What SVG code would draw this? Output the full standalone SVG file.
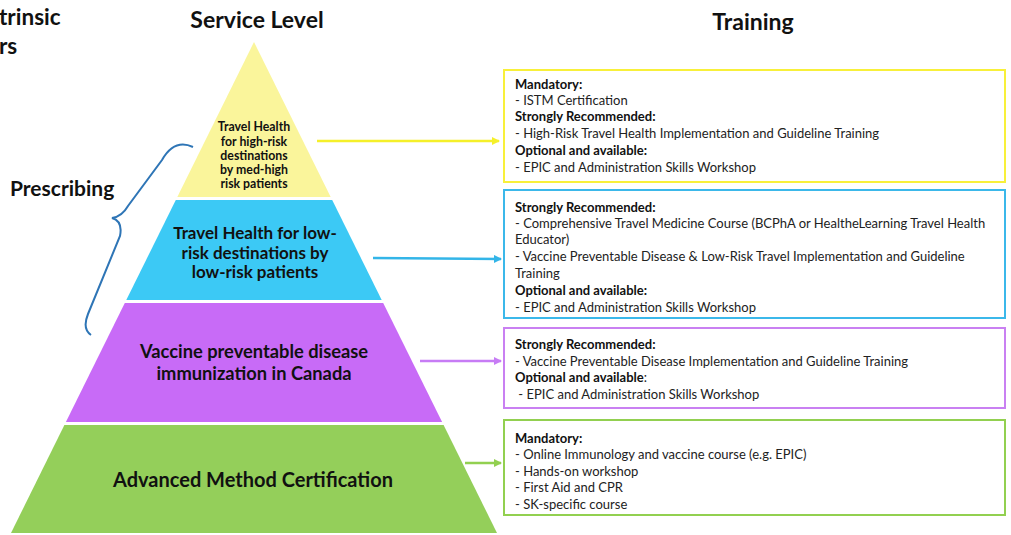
<svg xmlns="http://www.w3.org/2000/svg" width="1011" height="535" viewBox="0 0 1011 535">
<style>
.h{font-family:Lato,"Liberation Sans",sans-serif;font-weight:bold;fill:#111}
.t{font-family:Lato,"Liberation Sans",sans-serif;font-size:13px;fill:#222}
.b{font-weight:bold;fill:#111}
.ptxt{font-family:Lato,"Liberation Sans",sans-serif;font-weight:bold;fill:#111;text-anchor:middle}
.box{fill:#fff;stroke-width:2}
.conn{fill:none;stroke-width:2.5}
</style>
<defs>
<marker id="ay" markerWidth="8" markerHeight="8" refX="7" refY="4" orient="auto" markerUnits="userSpaceOnUse"><path d="M0,0 L8,4 L0,8 z" fill="#f5f02a"/></marker>
<marker id="ab" markerWidth="8" markerHeight="8" refX="7" refY="4" orient="auto" markerUnits="userSpaceOnUse"><path d="M0,0 L8,4 L0,8 z" fill="#33b5e8"/></marker>
<marker id="ap" markerWidth="8" markerHeight="8" refX="7" refY="4" orient="auto" markerUnits="userSpaceOnUse"><path d="M0,0 L8,4 L0,8 z" fill="#c77cf5"/></marker>
<marker id="ag" markerWidth="8" markerHeight="8" refX="7" refY="4" orient="auto" markerUnits="userSpaceOnUse"><path d="M0,0 L8,4 L0,8 z" fill="#92d050"/></marker>
</defs>
<rect width="1011" height="535" fill="#fff"/>

<g id="headings">
<text class="h" x="-1" y="25" font-size="22.5">trinsic</text>
<text class="h" x="-1" y="54" font-size="22.5">rs</text>
<text class="h" x="257" y="28" font-size="23" text-anchor="middle">Service Level</text>
<text class="h" x="753" y="30" font-size="23" text-anchor="middle">Training</text>
<text class="h" x="10" y="196" font-size="21">Prescribing</text>
</g>

<g id="bracket">
<path d="M193,147 C180,141 170,146 162,160 L128,206 C124,213 119,217 112,218 C119,220 122,226 120,236 L88,314 C84,324 85,331 91,335" fill="none" stroke="#2e75b6" stroke-width="2"/>
</g>

<g id="level-yellow">
<polygon points="254,42 330.7,197 177.3,197" fill="#faf59b"/>
<text class="ptxt" font-size="12.3"><tspan x="254" y="131">Travel Health</tspan><tspan x="254" y="146">for high-risk</tspan><tspan x="254" y="160">destinations</tspan><tspan x="254" y="174">by med-high</tspan><tspan x="254" y="188">risk patients</tspan></text>
</g>
<g id="level-blue">
<polygon points="175.8,200 332.2,200 381.7,300 126.3,300" fill="#3cc9f5"/>
<text class="ptxt" font-size="17"><tspan x="255" y="239">Travel Health for low-</tspan><tspan x="255" y="259">risk destinations by</tspan><tspan x="255" y="278">low-risk patients</tspan></text>
</g>
<g id="level-purple">
<polygon points="124.8,303 383.2,303 442.1,422 65.9,422" fill="#c86bf7"/>
<text class="ptxt" font-size="18.3"><tspan x="254" y="358">Vaccine preventable disease</tspan><tspan x="254" y="380">immunization in Canada</tspan></text>
</g>
<g id="level-green">
<polygon points="64.4,425 443.6,425 497,533 11,533" fill="#94cf5a"/>
<text class="ptxt" font-size="20" x="253" y="487">Advanced Method Certification</text>
</g>

<g id="connectors">
<line class="conn" x1="317" y1="141" x2="499" y2="141" stroke="#f5f02a" marker-end="url(#ay)"/>
<line class="conn" x1="373" y1="258" x2="501" y2="259" stroke="#33b5e8" marker-end="url(#ab)"/>
<line class="conn" x1="420" y1="361" x2="501" y2="361" stroke="#c77cf5" marker-end="url(#ap)"/>
<line class="conn" x1="465" y1="463" x2="501" y2="463" stroke="#92d050" marker-end="url(#ag)"/>
</g>

<g id="box-yellow">
<rect class="box" x="504" y="70" width="501" height="112" stroke="#f8f03a"/>
<text class="t"><tspan class="b" x="515" y="89">Mandatory:</tspan><tspan x="515" y="105">- ISTM Certification</tspan><tspan class="b" x="515" y="121">Strongly Recommended:</tspan><tspan x="515" y="138">- High-Risk Travel Health Implementation and Guideline Training</tspan><tspan class="b" x="515" y="155">Optional and available:</tspan><tspan x="515" y="172">- EPIC and Administration Skills Workshop</tspan></text>
</g>
<g id="box-blue">
<rect class="box" x="504" y="190" width="501" height="128" stroke="#3bb8ea"/>
<text class="t"><tspan class="b" x="515" y="212">Strongly Recommended:</tspan><tspan x="515" y="228">- Comprehensive Travel Medicine Course (BCPhA or HealtheLearning Travel Health</tspan><tspan x="515" y="244">Educator)</tspan><tspan x="515" y="261">- Vaccine Preventable Disease &amp; Low-Risk Travel Implementation and Guideline</tspan><tspan x="515" y="278">Training</tspan><tspan class="b" x="515" y="295">Optional and available:</tspan><tspan x="515" y="312">- EPIC and Administration Skills Workshop</tspan></text>
</g>
<g id="box-purple">
<rect class="box" x="504" y="328" width="501" height="80" stroke="#c980f2"/>
<text class="t"><tspan class="b" x="515" y="349">Strongly Recommended:</tspan><tspan x="515" y="366">- Vaccine Preventable Disease Implementation and Guideline Training</tspan><tspan class="b" x="515" y="382">Optional and available</tspan><tspan>:</tspan><tspan x="515" y="399"> - EPIC and Administration Skills Workshop</tspan></text>
</g>
<g id="box-green">
<rect class="box" x="504" y="420" width="501" height="95" stroke="#92d050"/>
<text class="t"><tspan class="b" x="515" y="443">Mandatory:</tspan><tspan x="515" y="459">- Online Immunology and vaccine course (e.g. EPIC)</tspan><tspan x="515" y="476">- Hands-on workshop</tspan><tspan x="515" y="492">- First Aid and CPR</tspan><tspan x="515" y="509">- SK-specific course</tspan></text>
</g>
</svg>
